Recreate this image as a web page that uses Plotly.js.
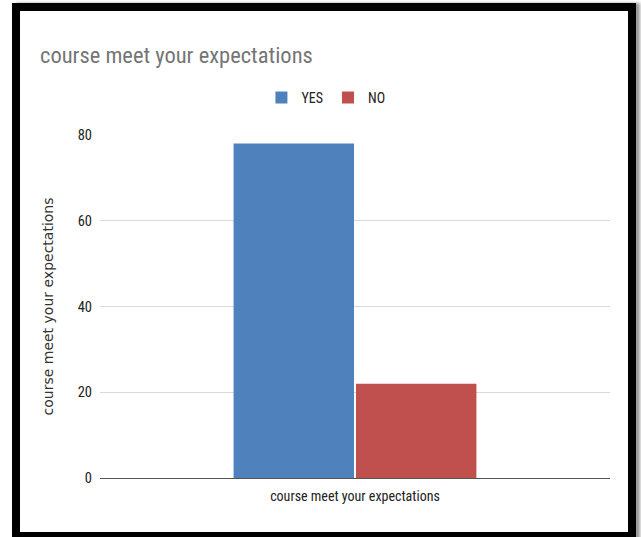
<!DOCTYPE html>
<html>
<head>
<meta charset="utf-8">
<script src="https://cdn.plot.ly/plotly-3.0.1.min.js"></script>
<style>
  html, body { margin: 0; padding: 0; background: #ffffff; }
  #wrap { position: relative; width: 641px; height: 537px; overflow: hidden; }
  #chart { position: absolute; left: 0; top: 0; width: 641px; height: 537px; }
  #frame { position: absolute; left: 12px; top: 3px; width: 608px; height: 521px;
           border: 8px solid #000; box-shadow: 4px 0 3px #9a9a9a; pointer-events: none; }
</style>
</head>
<body>
<div id="wrap">
  <div id="chart"></div>
  <div id="frame"></div>
</div>
<script>
const categories = ["course meet your expectations"];
const seriesNames = ["YES", "NO"];
const yesValues = [78];
const noValues = [22];
const yTicks = [0, 20, 40, 60, 80];

const narrow = '"Liberation Sans Narrow", "Roboto Condensed", "DejaVu Sans Condensed", Arial, sans-serif';
const regular = '"DejaVu Sans", "Liberation Sans", Arial, sans-serif';

const traces = [
  { type: 'bar', name: seriesNames[0], x: categories, y: yesValues,
    marker: { color: '#4f81bd' }, hoverinfo: 'none' },
  { type: 'bar', name: seriesNames[1], x: categories, y: noValues,
    marker: { color: '#c0504d' }, hoverinfo: 'none' }
];

const layout = {
  width: 641, height: 537,
  margin: { l: 100, r: 31, t: 135, b: 59 },
  paper_bgcolor: '#ffffff', plot_bgcolor: '#ffffff',
  barmode: 'group', bargap: 0.52, bargroupgap: 0.016,
  showlegend: true,
  title: { text: 'course meet your expectations', x: 40/641, xanchor: 'left', xref: 'container',
           y: 1 - 55/537, yanchor: 'middle', yref: 'container',
           font: { family: narrow, size: 22.5, color: '#757575' } },
  legend: { orientation: 'h', x: 0.443, xanchor: 'center', y: 1.108, yanchor: 'middle',
            font: { family: narrow, size: 14, color: '#222222' }, traceorder: 'normal' },
  xaxis: { type: 'category', showgrid: false, ticks: '', showline: false, ticklabelstandoff: 8,
           tickfont: { family: narrow, size: 14, color: '#222222' }, fixedrange: true },
  yaxis: { range: [0, 80], tickvals: yTicks, ticktext: yTicks.map(String),
           showgrid: true, gridcolor: '#d9d9d9', gridwidth: 1,
           zeroline: true, zerolinecolor: '#555555', zerolinewidth: 1,
           ticks: '', ticklabelstandoff: 7,
           tickfont: { family: narrow, size: 14.5, color: '#222222' },
           title: { text: 'course meet your expectations', standoff: 20,
                    font: { family: regular, size: 14, color: '#333333' } },
           fixedrange: true }
};

Plotly.newPlot('chart', traces, layout, { displayModeBar: false, staticPlot: true });
</script>
</body>
</html>
